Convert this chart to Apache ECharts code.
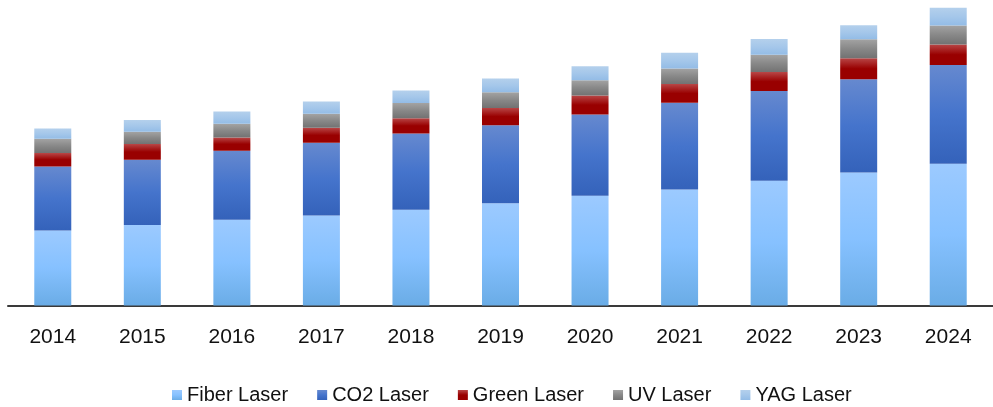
<!DOCTYPE html>
<html>
<head>
<meta charset="utf-8">
<style>
  html, body { margin: 0; padding: 0; background: #fff; }
  .chart { width: 993px; height: 407px; }
</style>
<script src="https://cdn.jsdelivr.net/npm/echarts@6/dist/echarts.min.js"></script>
</head>
<body>
<div class="chart"></div>
<script>
var years = ['2014', '2015', '2016', '2017', '2018', '2019', '2020', '2021', '2022', '2023', '2024'];
var fiberLaser = [75, 80.4, 85.7, 90, 95.7, 102.3, 109.7, 116, 124.7, 133, 141.7];
var co2Laser = [64, 65.3, 69, 72.7, 76.3, 78, 81.3, 86.7, 89.7, 93.3, 98.7];
var greenLaser = [13.4, 15.7, 13.3, 15, 15.3, 17.3, 19, 18.7, 19, 21, 20.7];
var uvLaser = [14.3, 12.3, 13.7, 14, 15.3, 15.7, 15.3, 15.7, 17.3, 19, 19];
var yagLaser = [10.3, 11.7, 12.3, 12.3, 12.3, 13.7, 14, 15.7, 15.7, 14, 17.7];

(function(){
  var myChart = echarts.init(document.querySelector(".chart"));

  // vertical gradient like the office-style bars
  function grad(top, mid, bottom) {
    return new echarts.graphic.LinearGradient(0, 0, 0, 1, [
      { offset: 0, color: top },
      { offset: 0.5, color: mid },
      { offset: 1, color: bottom }
    ]);
  }

  function bar(name, data, color, legendColor) {
    return {
      name: name,
      type: 'bar',
      stack: 'total',
      barWidth: 37,
      data: data,
      itemStyle: { color: color },
      emphasis: { disabled: true },
      legendColor: legendColor
    };
  }

  var series = [
    bar('Fiber Laser', fiberLaser, grad('#9ccaff', '#86c1ff', '#6aace6'), '#86c1ff'),
    bar('CO2 Laser', co2Laser, grad('#6689cf', '#4574cc', '#3462ba'), '#4574cc'),
    bar('Green Laser', greenLaser, grad('#b84646', '#990000', '#990000'), '#990000'),
    bar('UV Laser', uvLaser, grad('#a3a3a3', '#888888', '#727272'), '#888888'),
    bar('YAG Laser', yagLaser, grad('#b4d0ec', '#a5c7ea', '#93bce6'), '#a5c7ea')
  ];

  var option = {
    animation: false,
    color: series.map(function (s) { return s.legendColor; }),
    legend: {
      left: 167,
      top: 380,
      icon: 'rect',
      itemWidth: 10,
      itemHeight: 10,
      itemGap: 29,
      textStyle: {
        fontFamily: 'Liberation Sans, Arial, sans-serif',
        fontSize: 20,
        color: '#111'
      }
    },
    grid: {
      left: 8,
      top: 5.5,
      width: 995,
      height: 300
    },
    xAxis: {
      type: 'category',
      data: years,
      axisLine: { lineStyle: { color: '#3a3a3a', width: 2 } },
      axisTick: { show: false },
      axisLabel: {
        margin: 21,
        fontFamily: 'Liberation Sans, Arial, sans-serif',
        fontSize: 21,
        color: '#111'
      }
    },
    yAxis: {
      type: 'value',
      min: 0,
      max: 300,
      show: false,
      splitLine: { show: false }
    },
    series: series
  };

  myChart.setOption(option);
  window.addEventListener("resize", function() {
    myChart.resize();
  });
})();
</script>
</body>
</html>
